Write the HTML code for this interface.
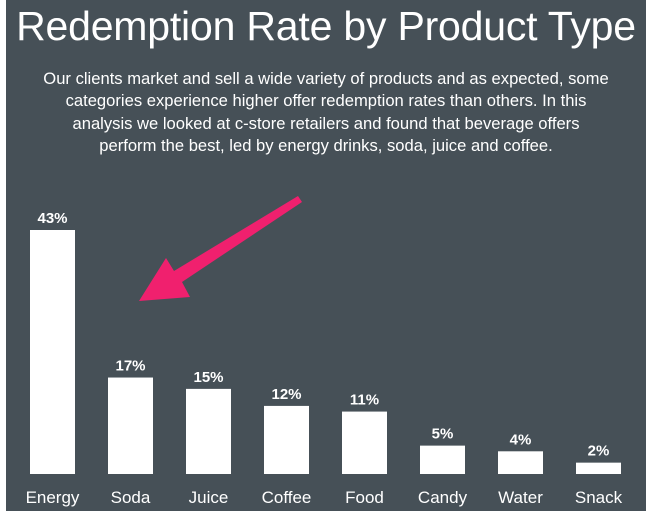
<!DOCTYPE html>
<html><head><meta charset="utf-8"><style>
body{margin:0;background:#fff;width:654px;height:514px;overflow:hidden;font-family:"Liberation Sans",sans-serif}
#bg{position:absolute;left:6px;top:0;width:640px;height:511px;background:#465057}
#title{position:absolute;left:6px;width:640px;top:3px;text-align:center;color:#fff;font-size:41px;letter-spacing:-0.2px;white-space:nowrap}
#desc{position:absolute;left:6px;width:640px;top:68px;text-align:center;color:#fff;font-size:16.6px;line-height:22.3px;white-space:nowrap}
svg{position:absolute;left:0;top:0}
</style></head><body>
<div id="bg"></div>
<div id="title">Redemption Rate by Product Type</div>
<div id="desc">Our clients market and sell a wide variety of products and as expected, some<br>categories experience higher offer redemption rates than others. In this<br>analysis we looked at c-store retailers and found that beverage offers<br>perform the best, led by energy drinks, soda, juice and coffee.</div>
<svg id="chart" width="654" height="514"></svg>
<script>
const categories=["Energy","Soda","Juice","Coffee","Food","Candy","Water","Snack"];
const values=[43,17,15,12,11,5,4,2];
const valueLabels=["43%","17%","15%","12%","11%","5%","4%","2%"];
const NS="http://www.w3.org/2000/svg";
const svg=document.getElementById('chart');
const baseY=474, pxPer=244/43, x0=30, step=78, bw=45;
const xScale=i=>x0+i*step;
const yScale=v=>baseY-v*pxPer;
function mk(t,a){const e=document.createElementNS(NS,t);for(const k in a)e.setAttribute(k,a[k]);svg.appendChild(e);return e;}
categories.forEach((c,i)=>{
  const x=xScale(i),y=yScale(values[i]);
  const r=mk('rect',{x:x,y:y,width:bw,height:baseY-y,fill:'#fff'});
  
  
  const v=mk('text',{x:x+bw/2,y:y-7,'text-anchor':'middle',fill:'#fff','font-size':'15','font-weight':'bold','font-family':'Liberation Sans, sans-serif'});
  v.textContent=valueLabels[i];
  
  
  const l=mk('text',{x:x+bw/2,y:503,'text-anchor':'middle',fill:'#fff','font-size':'17','font-family':'Liberation Sans, sans-serif'});
  l.textContent=c;
  
  
});
const a=mk('polygon',{points:'298,196 302,202 182,282 190,297 139,301 166,258 174,271',fill:'#f0206e'});


</script>
</body></html>
